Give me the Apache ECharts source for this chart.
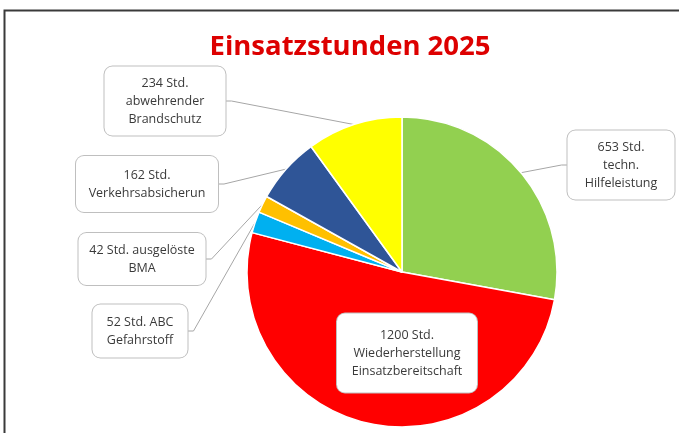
<!DOCTYPE html>
<html>
<head>
<meta charset="utf-8">
<script src="https://cdn.jsdelivr.net/npm/echarts@6/dist/echarts.min.js"></script>
<style>
  html, body { margin: 0; padding: 0; background: #fff; }
  #chart { width: 679px; height: 433px; }
</style>
</head>
<body>
<div id="chart"></div>
<script>
  // Einsatzstunden 2025 - hours per category
  const chartTitle = 'Einsatzstunden 2025';
  const hours = [653, 1200, 52, 42, 162, 234];
  // label text after "<n> Std." (line breaks as in the picture)
  const labelTails = [
    '\ntechn.\nHilfeleistung',
    '\nWiederherstellung\nEinsatzbereitschaft',
    ' ABC\nGefahrstoff',
    ' ausgelöste\nBMA',
    '\nVerkehrsabsicherun',
    '\nabwehrender\nBrandschutz',
  ];
  const sliceColors = ['#92d050', '#ff0000', '#00b0f0', '#ffc000', '#2f5597', '#ffff00'];

  // label boxes: center x, center y, width, height (px)
  const BOXES = [
    [621, 165, 107, 69],
    [407, 353, 140, 79],
    [140, 331, 95, 53],
    [142, 259, 127, 52],
    [147, 184, 142, 56],
    [165, 101, 121, 69],
  ];
  const LINE_H = 18;

  const data = hours.map((v, i) => {
    const [, , w, h] = BOXES[i];
    const nLines = (v + ' Std.' + labelTails[i]).split('\n').length;
    const padY = (h - nLines * LINE_H) / 2;
    return {
      name: labelTails[i].trim().replace(/\n/g, ' '),
      value: v,
      itemStyle: { color: sliceColors[i] },
      label: { width: w - 12, padding: [padY, 6] },
      labelLine: { show: i !== 1 },
    };
  });

  const chart = echarts.init(document.getElementById('chart'));
  chart.setOption({
    animation: false,
    title: {
      text: chartTitle,
      left: 345,
      top: 28,
      textAlign: 'center',
      textStyle: {
        color: '#dd0000',
        fontFamily: 'Open Sans',
        fontWeight: 'bold',
        fontSize: 27.5,
      },
    },
    graphic: [
      {
        type: 'polyline',
        shape: { points: [[4.5, 433], [4.5, 10.5], [679, 10.5]] },
        style: { stroke: '#3a3a3a', lineWidth: 2, fill: null },
      },
    ],
    series: [
      {
        type: 'pie',
        center: [402, 272],
        radius: 155,
        startAngle: 90,
        clockwise: true,
        avoidLabelOverlap: false,
        itemStyle: { borderColor: '#fff', borderWidth: 1.5 },
        label: {
          show: true,
          position: 'outside',
          formatter: p => p.value + ' Std.' + labelTails[p.dataIndex],
          fontFamily: 'Open Sans',
          fontSize: 12.5,
          color: '#3a3a3a',
          lineHeight: LINE_H,
          align: 'center',
          backgroundColor: '#fff',
          borderColor: '#bfbfbf',
          borderWidth: 1,
          borderRadius: 8,
          overflow: 'none',
        },
        labelLine: {
          show: true,
          lineStyle: { color: '#a6a6a6', width: 1 },
        },
        labelLayout: params => {
          const [cx, cy, w] = BOXES[params.dataIndex];
          const right = cx > 402;
          const edge = right ? cx - w / 2 : cx + w / 2;
          const out = {
            x: cx,
            y: cy,
            align: 'center',
            verticalAlign: 'middle',
          };
          if (params.labelLinePoints) {
            const p0 = params.labelLinePoints[0];
            out.labelLinePoints = [
              p0,
              [edge + (right ? -6 : 6), cy],
              [edge, cy],
            ];
          }
          return out;
        },
        data,
      },
    ],
  });
</script>
</body>
</html>
